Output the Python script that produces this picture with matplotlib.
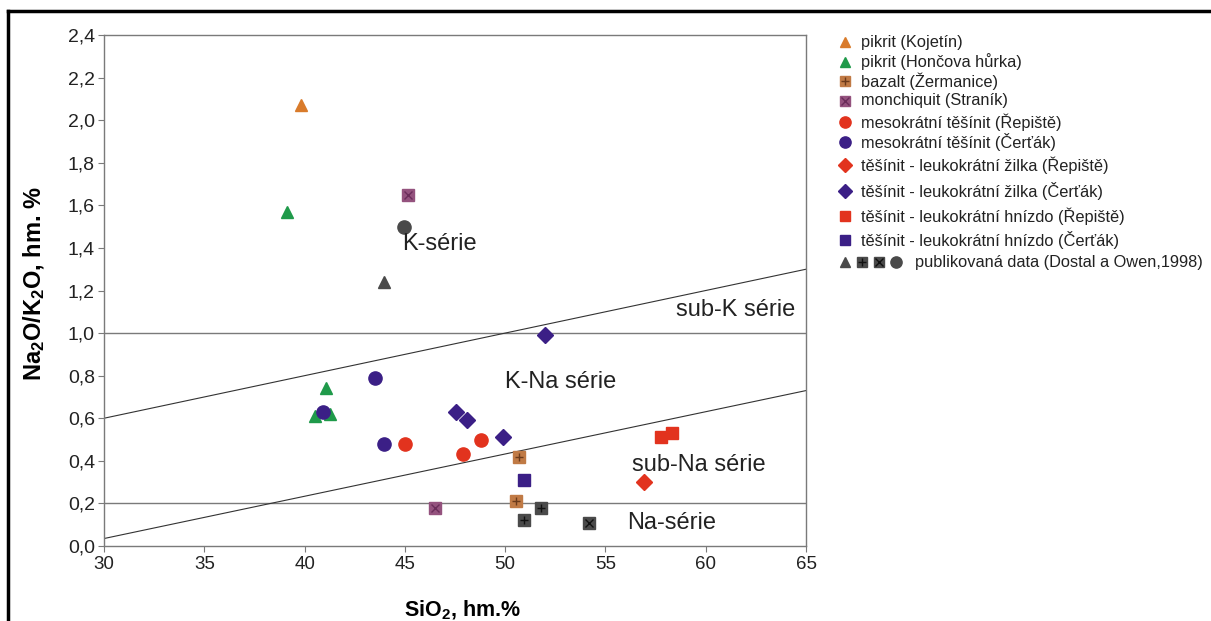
import matplotlib.pyplot as plt
from matplotlib.ticker import FuncFormatter

plt.rcParams['font.family'] = ['Liberation Sans', 'DejaVu Sans']
plt.rcParams['mathtext.default'] = 'regular'

# SiO2 [hm.%] a Na2O/K2O pro jednotlivé skupiny vzorků
koj_sio2 = [39.8]
koj_ratio = [2.07]
hon_sio2 = [39.1, 41.05, 40.5, 41.25]
hon_ratio = [1.57, 0.74, 0.61, 0.62]
zer_sio2 = [50.7, 50.55]
zer_ratio = [0.42, 0.21]
str_sio2 = [45.15, 46.5]
str_ratio = [1.65, 0.18]
mes_rep_sio2 = [45.0, 47.9, 48.8]
mes_rep_ratio = [0.48, 0.43, 0.50]
mes_cer_sio2 = [43.5, 40.9, 43.95]
mes_cer_ratio = [0.79, 0.63, 0.48]
zil_rep_sio2 = [56.9]
zil_rep_ratio = [0.30]
zil_cer_sio2 = [52.0, 47.55, 48.1, 49.9]
zil_cer_ratio = [0.99, 0.63, 0.59, 0.51]
hni_rep_sio2 = [57.75, 58.3]
hni_rep_ratio = [0.51, 0.53]
hni_cer_sio2 = [50.95]
hni_cer_ratio = [0.31]
# publikovaná data (Dostal a Owen, 1998)
pub_tri_sio2 = [43.95]
pub_tri_ratio = [1.24]
pub_circ_sio2 = [44.95]
pub_circ_ratio = [1.50]
pub_plus_sio2 = [50.95, 51.8]
pub_plus_ratio = [0.12, 0.18]
pub_x_sio2 = [54.2]
pub_x_ratio = [0.11]

# hranice sérií
bound_x = [30, 65]
upper_bound = [0.6, 1.3]
lower_bound = [0.035, 0.73]
horiz_levels = [1.0, 0.2]

series_labels = ['K-série', 'sub-K série', 'K-Na série', 'sub-Na série', 'Na-série']
series_pos = [(44.85, 1.42), (58.5, 1.11), (50.0, 0.77), (56.3, 0.38), (56.1, 0.11)]

legend_labels = [
    'pikrit (Kojetín)',
    'pikrit (Hončova hůrka)',
    'bazalt (Žermanice)',
    'monchiquit (Straník)',
    'mesokrátní těšínit (Řepiště)',
    'mesokrátní těšínit (Čerťák)',
    'těšínit - leukokrátní žilka (Řepiště)',
    'těšínit - leukokrátní žilka (Čerťák)',
    'těšínit - leukokrátní hnízdo (Řepiště)',
    'těšínit - leukokrátní hnízdo (Čerťák)',
    'publikovaná data (Dostal a Owen,1998)',
]

ORANGE = '#d97b2b'
GREEN = '#1f9a4a'
BROWN = '#c07a45'
MAUVE = '#94527e'
RED = '#e2331e'
BLUE = '#3b1f86'
GREY = '#4a4a4a'

# (x, y, marker, velikost, barva, překryvný symbol, barva symbolu)
groups = [
    (koj_sio2, koj_ratio, '^', 9, ORANGE, None, None),
    (hon_sio2, hon_ratio, '^', 9, GREEN, None, None),
    (zer_sio2, zer_ratio, 's', 8.5, BROWN, '+', '#6b3a1a'),
    (str_sio2, str_ratio, 's', 8.5, MAUVE, 'x', '#6a2c5a'),
    (mes_rep_sio2, mes_rep_ratio, 'o', 9.5, RED, None, None),
    (mes_cer_sio2, mes_cer_ratio, 'o', 9.5, BLUE, None, None),
    (zil_rep_sio2, zil_rep_ratio, 'D', 8.5, RED, None, None),
    (zil_cer_sio2, zil_cer_ratio, 'D', 8.5, BLUE, None, None),
    (hni_rep_sio2, hni_rep_ratio, 's', 9, RED, None, None),
    (hni_cer_sio2, hni_cer_ratio, 's', 9, BLUE, None, None),
    (pub_tri_sio2, pub_tri_ratio, '^', 9, GREY, None, None),
    (pub_circ_sio2, pub_circ_ratio, 'o', 9.5, GREY, None, None),
    (pub_plus_sio2, pub_plus_ratio, 's', 8.5, GREY, '+', '#111111'),
    (pub_x_sio2, pub_x_ratio, 's', 8.5, GREY, 'x', '#111111'),
]

fig = plt.figure(figsize=(12.11, 6.21), dpi=100)
ax = fig.add_axes([0.0859, 0.1208, 0.5797, 0.8228])

line_col = '#7a7a7a'
for lvl in horiz_levels:
    ax.plot(bound_x, [lvl, lvl], color=line_col, lw=1.0, zorder=1)
ax.plot(bound_x, upper_bound, color='#333333', lw=0.8, zorder=1)
ax.plot(bound_x, lower_bound, color='#333333', lw=0.8, zorder=1)


def draw_marker(axis, xs, ys, m, ms, col, over, over_col, **kw):
    axis.plot(xs, ys, ls='none', marker=m, ms=ms, mfc=col, mec=col, zorder=3, **kw)
    if over:
        axis.plot(xs, ys, ls='none', marker=over, ms=ms * 0.75, mec=over_col,
                  mew=1.0, zorder=4, **kw)


for xs, ys, m, ms, col, over, over_col in groups:
    draw_marker(ax, xs, ys, m, ms, col, over, over_col)

for lab, (tx, ty) in zip(series_labels, series_pos):
    ax.text(tx, ty, lab, fontsize=17, color='#222222', ha='left', va='center', zorder=5)

ax.set_xlim(30, 65)
ax.set_ylim(0, 2.4)
ax.set_xticks(range(30, 66, 5))
ax.set_yticks([i * 0.2 for i in range(13)])
ax.yaxis.set_major_formatter(FuncFormatter(lambda v, p: f'{v:.1f}'.replace('.', ',')))
ax.tick_params(direction='out', length=4, width=0.8, color=line_col,
               labelcolor='#222222')
ax.tick_params(axis='x', labelsize=13.5, pad=3)
ax.tick_params(axis='y', labelsize=14, pad=2.5)
for sp in ax.spines.values():
    sp.set_color(line_col)
    sp.set_linewidth(1.0)

ax.set_ylabel('Na$_2$O/K$_2$O, hm. %', fontsize=17, fontweight='bold')
ax.yaxis.set_label_coords(-0.081, 0.514)
ax.set_xlabel('SiO$_2$, hm.%', fontsize=15.5, fontweight='bold')
ax.xaxis.set_label_coords(0.511, -0.104)

# legenda v pixelových souřadnicích obrázku
leg = fig.add_axes([0, 0, 1, 1], zorder=-1)
leg.set_xlim(0, 1211)
leg.set_ylim(621, 0)
leg.axis('off')
rows_y = [42, 62, 81, 101, 122, 142, 165, 191, 216, 240, 262]
for (xs, ys, m, ms, col, over, over_col), ry, lab in zip(groups[:10], rows_y, legend_labels):
    draw_marker(leg, [845], [ry], m, ms * 0.85, col, over, over_col)
    leg.text(861, ry, lab, fontsize=11.8, va='center', ha='left', color='#222222')
pub_x = [845, 862, 879, 896]
pub_order = [groups[10], groups[12], groups[13], groups[11]]
for px, (xs, ys, m, ms, col, over, over_col) in zip(pub_x, pub_order):
    draw_marker(leg, [px], [rows_y[-1]], m, ms * 0.85, col, over, over_col)
leg.text(915, rows_y[-1], legend_labels[-1], fontsize=11.8, va='center', ha='left', color='#222222')

# rámeček obrázku (jen horní a levá hrana)
leg.plot([8, 1211], [11, 11], color='black', lw=2.5, clip_on=False)
leg.plot([8, 8], [11, 621], color='black', lw=2.5, clip_on=False)

fig.savefig('out.png', dpi=100)
